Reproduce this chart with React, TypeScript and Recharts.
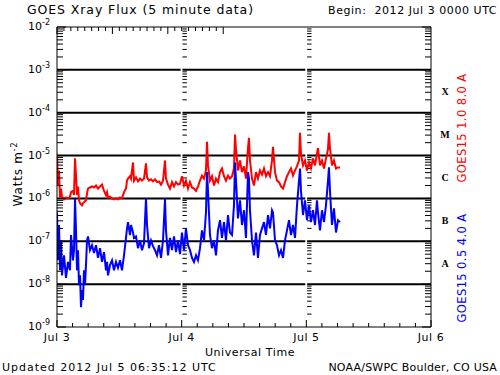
import React from 'react';
import { LineChart, Line, XAxis, YAxis, ReferenceLine } from 'recharts';

// hours since 2012 Jul 3 00:00 UTC
const hours = [
  0, 0.19, 0.39, 0.58, 0.77, 0.96, 1.35, 1.73, 2.12, 2.5,
  2.7, 3.08, 3.27, 3.47, 3.66, 3.85, 4.04, 4.24, 4.43, 4.62,
  4.81, 5.0, 5.2, 5.39, 5.58, 5.78, 5.97, 6.35, 6.74, 7.12,
  7.51, 7.89, 8.28, 8.66, 9.05, 9.43, 9.63, 9.82, 10.2, 10.59,
  10.97, 11.36, 11.74, 12.13, 12.51, 12.9, 13.28, 13.48, 13.67, 14.05,
  14.25, 14.63, 14.82, 15.21, 15.59, 15.98, 16.36, 16.75, 17.13, 17.33,
  17.71, 18.1, 18.48, 18.87, 19.25, 19.64, 20.02, 20.41, 20.79, 20.98,
  21.37, 21.75, 22.14, 22.52, 22.91, 23.29, 23.68, 24.06, 24.45, 24.83,
  25.22, 25.6, 25.99, 26.37, 26.76, 27.14, 27.53, 27.91, 28.3, 28.68,
  28.88, 29.07, 29.45, 29.84, 30.22, 30.61, 30.99, 31.38, 31.76, 32.15,
  32.53, 32.92, 33.3, 33.69, 34.07, 34.27, 34.46, 34.84, 35.23, 35.61,
  36.0, 36.38, 36.77, 36.96, 37.15, 37.54, 37.92, 38.31, 38.69, 39.08,
  39.46, 39.85, 40.23, 40.62, 41.0, 41.39, 41.58, 41.97, 42.35, 42.74,
  43.12, 43.51, 43.89, 44.28, 44.66, 45.05, 45.43, 45.82, 46.2, 46.59,
  46.78, 46.97, 47.36, 47.74, 48.13, 48.51, 48.9, 49.28, 49.67, 50.05,
  50.24, 50.63, 51.01, 51.4, 51.78, 52.17, 52.36, 52.55, 52.94, 53.32,
  53.71, 54.09, 54.48,
];

// GOES15 1.0-8.0 A (W m^-2)
const longFlux = [
  1.1e-5, 2.0e-6, 4.5e-6, 1.05e-6, 1.7e-6, 1.1e-6, 9.5e-7, 1.05e-6, 1.0e-6, 1.1e-6,
  1.4e-6, 1.5e-6, 1.2e-6, 8.6e-6, 3.4e-6, 1.2e-6, 1.9e-6, 9.0e-7, 7.7e-7, 7.3e-7,
  6.9e-7, 7.7e-7, 8.1e-7, 8.6e-7, 9.0e-7, 1.3e-6, 1.7e-6, 1.8e-6, 1.9e-6, 1.8e-6,
  2.0e-6, 1.7e-6, 1.9e-6, 2.1e-6, 1.5e-6, 1.2e-6, 1.4e-6, 1.05e-6, 1.1e-6, 1.0e-6,
  9.5e-7, 1.0e-6, 9.5e-7, 1.05e-6, 1.0e-6, 1.4e-6, 1.7e-6, 2.6e-6, 2.9e-6, 3.3e-6,
  2.9e-6, 6.9e-6, 2.6e-6, 3.1e-6, 2.5e-6, 2.9e-6, 2.6e-6, 2.9e-6, 6.6e-6, 3.1e-6,
  2.6e-6, 2.8e-6, 2.5e-6, 2.8e-6, 2.4e-6, 2.5e-6, 2.1e-6, 2.6e-6, 7.7e-6, 2.9e-6,
  2.1e-6, 1.7e-6, 2.4e-6, 1.9e-6, 2.4e-6, 2.1e-6, 2.2e-6, 3.3e-6, 2.0e-6, 2.6e-6,
  1.7e-6, 2.4e-6, 1.8e-6, 1.7e-6, 1.5e-6, 1.9e-6, 2.6e-6, 3.4e-6, 2.9e-6, 4.5e-6,
  2.1e-5, 5.9e-6, 2.6e-6, 3.3e-6, 2.0e-6, 2.9e-6, 2.4e-6, 4.1e-6, 5.0e-6, 3.3e-6,
  2.6e-6, 3.4e-6, 2.9e-6, 3.3e-6, 5.0e-6, 3.1e-5, 1.4e-5, 4.5e-6, 7.7e-6, 4.1e-6,
  5.6e-6, 2.9e-6, 1.5e-5, 2.6e-5, 7.7e-6, 2.9e-6, 2.0e-6, 4.1e-6, 2.9e-6, 4.5e-6,
  3.6e-6, 5.0e-6, 3.3e-6, 4.1e-6, 3.3e-6, 7.7e-6, 1.6e-5, 4.1e-6, 2.6e-6, 2.4e-6,
  1.9e-6, 1.7e-6, 2.4e-6, 3.3e-6, 4.1e-6, 5.0e-6, 3.4e-6, 4.5e-6, 5.6e-6, 7.7e-6,
  3.4e-5, 1.1e-5, 5.9e-6, 7.7e-6, 4.5e-6, 6.9e-6, 5.0e-6, 8.6e-6, 5.9e-6, 1.1e-5,
  1.5e-5, 5.9e-6, 7.7e-6, 5.0e-6, 8.6e-6, 1.4e-5, 3.4e-5, 1.5e-5, 5.9e-6, 7.7e-6,
  5.0e-6, 5.3e-6, 5.3e-6,
];

// GOES15 0.5-4.0 A (W m^-2)
const shortFlux = [
  4.7e-7, 3.6e-8, 2.4e-7, 2.1e-8, 1.05e-7, 1.6e-8, 4.7e-8, 1.4e-8, 3.3e-8, 2.1e-8,
  1.4e-7, 3.6e-8, 6.2e-8, 1.0e-6, 1.8e-7, 2.1e-8, 6.2e-8, 9.5e-9, 1.6e-8, 2.9e-9,
  7.3e-9, 4.3e-9, 2.1e-8, 9.5e-9, 2.8e-8, 1.05e-7, 1.3e-7, 6.2e-8, 8.1e-8, 5.3e-8,
  8.1e-8, 4.1e-8, 6.9e-8, 3.3e-8, 5.6e-8, 2.1e-8, 3.3e-8, 1.6e-8, 2.8e-8, 3.6e-8,
  2.1e-8, 3.3e-8, 2.4e-8, 3.6e-8, 2.1e-8, 4.7e-8, 1.2e-7, 2.0e-7, 2.8e-7, 1.4e-7,
  2.4e-7, 1.6e-7, 1.2e-7, 1.3e-7, 6.9e-8, 1.05e-7, 6.2e-8, 9.0e-8, 1.0e-6, 2.4e-7,
  6.9e-8, 1.05e-7, 7.7e-8, 6.2e-8, 4.7e-8, 8.1e-8, 4.1e-8, 1.05e-7, 1.0e-6, 1.8e-7,
  4.7e-8, 1.2e-7, 6.2e-8, 1.3e-7, 5.6e-8, 1.05e-7, 5.0e-8, 1.6e-7, 6.2e-8, 2.0e-7,
  8.1e-8, 6.2e-8, 4.1e-8, 3.3e-8, 4.7e-8, 3.6e-8, 6.9e-8, 1.8e-7, 1.05e-7, 4.7e-7,
  4.1e-6, 1.5e-6, 1.4e-7, 6.9e-8, 1.05e-7, 4.7e-8, 1.8e-7, 3.1e-7, 1.2e-7, 2.8e-7,
  1.05e-7, 4.1e-7, 1.6e-7, 1.4e-7, 6.9e-7, 6.9e-6, 2.6e-6, 3.4e-7, 9.0e-7, 2.4e-7,
  5.3e-7, 1.2e-7, 4.1e-6, 2.9e-6, 5.3e-7, 1.05e-7, 4.7e-8, 1.6e-7, 4.1e-8, 1.4e-7,
  2.0e-7, 2.8e-7, 1.4e-7, 4.1e-7, 2.0e-7, 5.3e-7, 4.7e-7, 1.05e-7, 8.1e-8, 4.7e-8,
  6.2e-8, 4.1e-8, 1.05e-7, 1.8e-7, 3.1e-7, 1.4e-7, 2.4e-7, 1.2e-7, 6.9e-7, 2.6e-6,
  5.0e-6, 1.5e-6, 4.1e-7, 9.0e-7, 3.1e-7, 6.9e-7, 2.8e-7, 5.3e-7, 2.4e-7, 9.0e-7,
  4.7e-7, 1.8e-7, 5.3e-7, 2.8e-7, 6.9e-7, 2.6e-6, 5.3e-6, 1.5e-6, 2.4e-7, 5.9e-7,
  1.6e-7, 3.1e-7, 2.8e-7,
];

const dayLabels = ['Jul 3', 'Jul 4', 'Jul 5', 'Jul 6'];
const xTicks = [0, 3, 6, 9, 12, 15, 18, 21, 24, 27, 30, 33, 36, 39, 42, 45, 48, 51, 54, 57, 60, 63, 66, 69, 72];
const dayBoundaries = [24, 48];
const decadeExponents = [-9, -8, -7, -6, -5, -4, -3, -2];
const gridExponents = [-8, -7, -6, -5, -4, -3];
const minorMultipliers = [2, 3, 4, 5, 6, 7, 8, 9];
const classLabels = ['A', 'B', 'C', 'M', 'X'];
const classExponents = [-8, -7, -6, -5, -4];

const FONT = 'DejaVu Sans';

const majorTicks = decadeExponents.map((e) => Math.pow(10, e));
const minorTicks: number[] = [];
decadeExponents.slice(0, -1).forEach((e) => {
  minorMultipliers.forEach((m) => minorTicks.push(Number((m * Math.pow(10, e)).toPrecision(3))));
});
const classTicks = classExponents.map((e) => Number((Math.sqrt(10) * Math.pow(10, e)).toPrecision(4)));
const leftTicks = [...majorTicks, ...minorTicks];
const rightTicks = [...majorTicks, ...minorTicks, ...classTicks];

const data = hours.map((h, i) => ({ h, long: longFlux[i], short: shortFlux[i] }));

const isMajor = (v: number) => {
  const l = Math.log10(v);
  return Math.abs(l - Math.round(l)) < 1e-6;
};

const BottomTick = (props: any) => {
  const { x, y, payload } = props;
  const v = payload.value;
  const major = v % 24 === 0;
  return (
    <g>
      <line x1={x} x2={x} y1={y} y2={y - (major ? 7 : 4)} stroke="#000" strokeWidth={1} />
      {major && (
        <text x={x} y={y + 14} textAnchor="middle" fontSize={11} fontFamily={FONT} fill="#000" letterSpacing={0.5}>
          {dayLabels[v / 24]}
        </text>
      )}
    </g>
  );
};

const TopTick = (props: any) => {
  const { x, y, payload } = props;
  const major = payload.value % 24 === 0;
  return <line x1={x} x2={x} y1={y} y2={y + (major ? 7 : 4)} stroke="#000" strokeWidth={1} />;
};

const LeftTick = (props: any) => {
  const { x, y, payload } = props;
  const v = payload.value;
  const major = isMajor(v);
  const e = Math.round(Math.log10(v));
  return (
    <g>
      <line x1={x} x2={x + (major ? 9 : 6)} y1={y} y2={y} stroke="#000" strokeWidth={1} />
      {major && (
        <text x={x - 7} y={y + 3} textAnchor="end" fontSize={11} fontFamily={FONT} fill="#000">
          10
          <tspan fontSize={8} dy={-5}>
            {e}
          </tspan>
        </text>
      )}
    </g>
  );
};

const RightTick = (props: any) => {
  const { x, y, payload } = props;
  const v = payload.value;
  const ci = classTicks.indexOf(v);
  if (ci >= 0) {
    return (
      <text x={x + 14} y={y + 4} textAnchor="middle" fontSize={10} fontWeight="bold" fontFamily="Liberation Serif" fill="#000">
        {classLabels[ci]}
      </text>
    );
  }
  const major = isMajor(v);
  return <line x1={x} x2={x - (major ? 9 : 6)} y1={y} y2={y} stroke="#000" strokeWidth={1} />;
};

const gridSegments: [number, number][] = [
  [0, 23.8],
  [24.15, 47.8],
  [48.15, 72],
];

export default function App() {
  return (
    <div style={{ position: 'absolute', left: 0, top: 0, width: 500, height: 375, background: '#fff' }}>
      <LineChart width={500} height={375} data={data} margin={{ top: 0, right: 0, bottom: 0, left: 0 }}>
        <XAxis
          dataKey="h"
          type="number"
          domain={[0, 72]}
          ticks={xTicks}
          interval={0}
          height={48}
          tickSize={0}
          tickMargin={0}
          tickLine={false}
          axisLine={{ stroke: '#000', strokeWidth: 1 }}
          tick={<BottomTick />}
          allowDataOverflow
        />
        <XAxis
          xAxisId="top"
          orientation="top"
          type="number"
          domain={[0, 72]}
          ticks={xTicks}
          interval={0}
          height={27}
          tickSize={0}
          tickMargin={0}
          tickLine={false}
          axisLine={{ stroke: '#000', strokeWidth: 1 }}
          tick={<TopTick />}
          allowDataOverflow
        />
        <YAxis
          type="number"
          scale="log"
          domain={[1e-9, 1e-2]}
          ticks={leftTicks}
          interval={0}
          width={57}
          tickSize={0}
          tickMargin={0}
          tickLine={false}
          axisLine={{ stroke: '#000', strokeWidth: 1 }}
          tick={<LeftTick />}
          allowDataOverflow
        />
        <YAxis
          yAxisId="right"
          orientation="right"
          type="number"
          scale="log"
          domain={[1e-9, 1e-2]}
          ticks={rightTicks}
          interval={0}
          width={69}
          tickSize={0}
          tickMargin={0}
          tickLine={false}
          axisLine={{ stroke: '#000', strokeWidth: 1 }}
          tick={<RightTick />}
          allowDataOverflow
        />
        {gridExponents.map((e) =>
          gridSegments.map(([a, b]) => (
            <ReferenceLine
              key={`g${e}-${a}`}
              segment={[
                { x: a, y: Math.pow(10, e) },
                { x: b, y: Math.pow(10, e) },
              ]}
              stroke="#000"
              strokeWidth={2}
            />
          ))
        )}
        {dayBoundaries.map((d) =>
          minorTicks.map((v) => (
            <ReferenceLine
              key={`m${d}-${v}`}
              segment={[
                { x: d + 0.15, y: v },
                { x: d + 1.0, y: v },
              ]}
              stroke="#000"
              strokeWidth={1}
            />
          ))
        )}
        <Line
          dataKey="long"
          type="linear"
          stroke="#ff0000"
          strokeWidth={2}
          dot={false}
          isAnimationActive={false}
        />
        <Line
          dataKey="short"
          type="linear"
          stroke="#0000ff"
          strokeWidth={2}
          dot={false}
          isAnimationActive={false}
        />
      </LineChart>
      <svg
        width={500}
        height={375}
        style={{ position: 'absolute', left: 0, top: 0, pointerEvents: 'none' }}
        fontFamily={FONT}
      >
        <text x={27} y={14} fontSize={12.5} fill="#000" letterSpacing={0.9}>
          GOES Xray Flux (5 minute data)
        </text>
        <text x={497} y={14} fontSize={11} fill="#000" textAnchor="end" letterSpacing={0.55} style={{ whiteSpace: 'pre' }}>
          {'Begin:  2012 Jul 3 0000 UTC'}
        </text>
        <text x={22} y={174} fontSize={12} fill="#000" textAnchor="middle" letterSpacing={0.8} transform="rotate(-90 22 174)">
          Watts m<tspan fontSize={8} dy={-5}>-2</tspan>
        </text>
        <text x={250} y={356} fontSize={11} fill="#000" textAnchor="middle" letterSpacing={0.6}>
          Universal Time
        </text>
        <text x={2} y={371} fontSize={11} fill="#000" letterSpacing={1}>
          Updated 2012 Jul 5 06:35:12 UTC
        </text>
        <text x={497} y={371} fontSize={11} fill="#000" textAnchor="end" letterSpacing={0.2}>
          NOAA/SWPC Boulder, CO USA
        </text>
        <text x={466} y={128} fontSize={11.5} fill="#ff0000" textAnchor="middle" letterSpacing={0.4} transform="rotate(-90 466 128)">
          GOES15 1.0 8.0 A
        </text>
        <text x={466} y={268} fontSize={11.5} fill="#0000ff" textAnchor="middle" letterSpacing={0.4} transform="rotate(-90 466 268)">
          GOES15 0.5 4.0 A
        </text>
      </svg>
    </div>
  );
}
